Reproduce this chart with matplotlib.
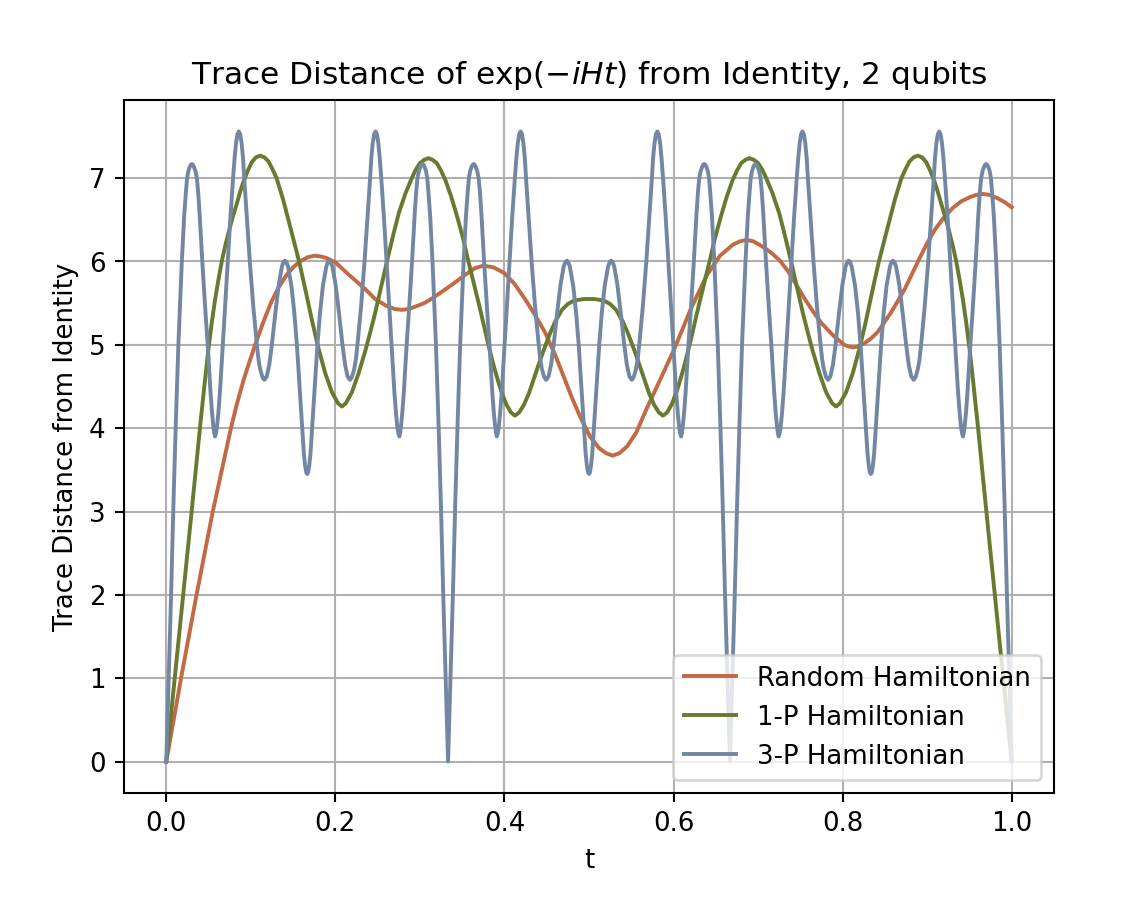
import matplotlib
matplotlib.use("Agg")
import matplotlib.pyplot as plt

# ---------------- data ----------------
t_random = [0.0000, 0.0175, 0.0358, 0.0550, 0.0765, 0.0835, 0.0915, 0.0985, 0.1055, 0.1150,
            0.1240, 0.1330, 0.1418, 0.1500, 0.1580, 0.1670, 0.1753, 0.1830, 0.1900, 0.2000,
            0.2150, 0.2352, 0.2470, 0.2600, 0.2700, 0.2786, 0.2870, 0.2950, 0.3050, 0.3150,
            0.3350, 0.3550, 0.3650, 0.3751, 0.3870, 0.4000, 0.4120, 0.4243, 0.4360, 0.4480,
            0.4600, 0.4716, 0.4800, 0.4894, 0.5012, 0.5120, 0.5200, 0.5280, 0.5360, 0.5450,
            0.5560, 0.5680, 0.5850, 0.6009, 0.6200, 0.6390, 0.6550, 0.6700, 0.6780, 0.6864,
            0.6950, 0.7050, 0.7150, 0.7258, 0.7350, 0.7435, 0.7553, 0.7650, 0.7750, 0.7900,
            0.8020, 0.8070, 0.8124, 0.8180, 0.8260, 0.8340, 0.8420, 0.8580, 0.8735, 0.8920,
            0.9000, 0.9090, 0.9200, 0.9300, 0.9400, 0.9500, 0.9580, 0.9661, 0.9740, 0.9830,
            0.9920, 1.0000]
td_random = [0.00, 1.00, 2.00, 3.00, 4.00, 4.29, 4.58, 4.80, 5.01, 5.28,
             5.51, 5.69, 5.83, 5.93, 6.00, 6.05, 6.07, 6.06, 6.04, 5.99,
             5.85, 5.67, 5.55, 5.47, 5.43, 5.42, 5.43, 5.46, 5.50, 5.56,
             5.70, 5.85, 5.92, 5.95, 5.93, 5.86, 5.73, 5.55, 5.36, 5.15,
             4.88, 4.58, 4.36, 4.14, 3.90, 3.76, 3.70, 3.67, 3.70, 3.78,
             3.95, 4.23, 4.60, 4.95, 5.42, 5.83, 6.07, 6.20, 6.24, 6.26,
             6.24, 6.18, 6.11, 6.01, 5.89, 5.75, 5.55, 5.40, 5.26, 5.10,
             5.00, 4.98, 4.97, 4.98, 5.02, 5.08, 5.16, 5.40, 5.67, 6.06,
             6.22, 6.38, 6.53, 6.64, 6.72, 6.77, 6.80, 6.81, 6.80, 6.76,
             6.71, 6.65]

t_1p = [0.0000, 0.0100, 0.0200, 0.0300, 0.0398, 0.0450, 0.0500, 0.0540, 0.0580, 0.0620,
        0.0660, 0.0700, 0.0740, 0.0785, 0.0827, 0.0870, 0.0910, 0.0960, 0.1010, 0.1060,
        0.1111, 0.1160, 0.1210, 0.1260, 0.1305, 0.1380, 0.1470, 0.1576, 0.1650, 0.1726,
        0.1800, 0.1880, 0.1960, 0.2030, 0.2077, 0.2125, 0.2195, 0.2275, 0.2352, 0.2410,
        0.2470, 0.2540, 0.2610, 0.2680, 0.2750, 0.2830, 0.2904, 0.2950, 0.3000, 0.3050,
        0.3101, 0.3150, 0.3200, 0.3250, 0.3300, 0.3370, 0.3440, 0.3510, 0.3574, 0.3640,
        0.3700, 0.3760, 0.3810, 0.3870, 0.3920, 0.3970, 0.4020, 0.4075, 0.4125, 0.4175,
        0.4230, 0.4290, 0.4350, 0.4420, 0.4480, 0.4540, 0.4600, 0.4680, 0.4750, 0.4820,
        0.4880, 0.4940, 0.5000,
        0.5060, 0.5120, 0.5180, 0.5250, 0.5320, 0.5400, 0.5460, 0.5520, 0.5580, 0.5650,
        0.5710, 0.5770, 0.5825, 0.5875, 0.5925, 0.5980, 0.6030, 0.6080, 0.6130, 0.6190,
        0.6240, 0.6300, 0.6360, 0.6426, 0.6490, 0.6560, 0.6630, 0.6700, 0.6750, 0.6800,
        0.6850, 0.6899, 0.6950, 0.7000, 0.7050, 0.7096, 0.7170, 0.7250, 0.7320, 0.7390,
        0.7460, 0.7530, 0.7590, 0.7648, 0.7725, 0.7805, 0.7875, 0.7923, 0.7970, 0.8040,
        0.8120, 0.8200, 0.8274, 0.8350, 0.8424, 0.8530, 0.8620, 0.8695, 0.8740, 0.8790,
        0.8840, 0.8889, 0.8940, 0.8990, 0.9040, 0.9090, 0.9130, 0.9173, 0.9215, 0.9260,
        0.9300, 0.9340, 0.9380, 0.9420, 0.9460, 0.9500, 0.9550, 0.9602, 0.9700, 0.9800,
        0.9900, 1.0000]
td_1p = [0.00, 1.00, 2.00, 3.00, 4.00, 4.50, 4.96, 5.28, 5.56, 5.80,
         6.02, 6.20, 6.36, 6.53, 6.67, 6.82, 6.95, 7.08, 7.19, 7.25,
         7.27, 7.25, 7.20, 7.10, 7.00, 6.75, 6.40, 5.98, 5.64, 5.28,
         4.96, 4.66, 4.43, 4.30, 4.26, 4.30, 4.43, 4.66, 4.92, 5.14,
         5.38, 5.69, 6.00, 6.30, 6.58, 6.82, 7.00, 7.10, 7.18, 7.22,
         7.24, 7.22, 7.18, 7.09, 6.98, 6.78, 6.54, 6.28, 6.00, 5.73,
         5.48, 5.22, 5.00, 4.76, 4.58, 4.42, 4.29, 4.19, 4.15, 4.19,
         4.28, 4.42, 4.60, 4.81, 4.98, 5.14, 5.28, 5.42, 5.49, 5.53,
         5.54, 5.55, 5.55,
         5.55, 5.54, 5.53, 5.49, 5.42, 5.28, 5.14, 4.98, 4.81, 4.60,
         4.42, 4.28, 4.19, 4.15, 4.19, 4.29, 4.42, 4.58, 4.76, 5.00,
         5.22, 5.48, 5.73, 6.00, 6.28, 6.54, 6.78, 6.98, 7.09, 7.18,
         7.22, 7.24, 7.22, 7.18, 7.10, 7.00, 6.82, 6.58, 6.30, 6.00,
         5.69, 5.38, 5.14, 4.92, 4.66, 4.43, 4.30, 4.26, 4.30, 4.43,
         4.66, 4.96, 5.28, 5.64, 5.98, 6.40, 6.75, 7.00, 7.10, 7.20,
         7.25, 7.27, 7.25, 7.19, 7.08, 6.95, 6.82, 6.67, 6.53, 6.36,
         6.20, 6.02, 5.80, 5.56, 5.28, 4.96, 4.50, 4.00, 3.00, 2.00,
         1.00, 0.00]

t_3p = [
    0.0000, 0.0028, 0.0057, 0.0085, 0.0111, 0.0143, 0.0184, 0.0212, 0.0232, 0.0246,
    0.0260, 0.0275, 0.0290, 0.0303, 0.0316, 0.0330, 0.0346, 0.0362, 0.0378, 0.0394,
    0.0426, 0.0460, 0.0493, 0.0522, 0.0540, 0.0555, 0.0566, 0.0576, 0.0586, 0.0598,
    0.0615, 0.0636, 0.0668, 0.0698, 0.0728, 0.0758, 0.0790, 0.0808, 0.0825, 0.0842,
    0.0858, 0.0874, 0.0891, 0.0908, 0.0922, 0.0955, 0.0988, 0.1030, 0.1072, 0.1090,
    0.1110, 0.1138, 0.1160, 0.1188, 0.1218, 0.1249, 0.1290, 0.1330, 0.1368, 0.1387,
    0.1405, 0.1422, 0.1440, 0.1480, 0.1515, 0.1545, 0.1577, 0.1608, 0.1627, 0.1642,
    0.1655, 0.1667,
    0.1678, 0.1691, 0.1706, 0.1725, 0.1756, 0.1788, 0.1818, 0.1853, 0.1893, 0.1911,
    0.1928, 0.1946, 0.1965, 0.2003, 0.2043, 0.2084, 0.2115, 0.2145, 0.2173, 0.2195,
    0.2223, 0.2243, 0.2261, 0.2303, 0.2345, 0.2378, 0.2411, 0.2425, 0.2442, 0.2459,
    0.2475, 0.2491, 0.2508, 0.2525, 0.2543, 0.2575, 0.2605, 0.2635, 0.2665, 0.2697,
    0.2718, 0.2735, 0.2747, 0.2757, 0.2767, 0.2778, 0.2793, 0.2811, 0.2840, 0.2873,
    0.2907, 0.2939, 0.2955, 0.2971, 0.2987, 0.3003, 0.3017, 0.3030, 0.3043, 0.3058,
    0.3073, 0.3087, 0.3101, 0.3121, 0.3149, 0.3190, 0.3222, 0.3248, 0.3276, 0.3305,
    0.3333,
    0.3361, 0.3390, 0.3418, 0.3444, 0.3476, 0.3517, 0.3545, 0.3565, 0.3579,
    0.3593, 0.3608, 0.3623, 0.3636, 0.3649, 0.3663, 0.3679, 0.3695, 0.3711, 0.3727,
    0.3759, 0.3793, 0.3826, 0.3855, 0.3873, 0.3888, 0.3899, 0.3909, 0.3919, 0.3931,
    0.3948, 0.3969, 0.4001, 0.4031, 0.4061, 0.4091, 0.4123, 0.4141, 0.4158, 0.4175,
    0.4191, 0.4207, 0.4224, 0.4241, 0.4255, 0.4288, 0.4321, 0.4363, 0.4405, 0.4423,
    0.4443, 0.4471, 0.4493, 0.4521, 0.4551, 0.4582, 0.4623, 0.4663, 0.4701, 0.4720,
    0.4738, 0.4755, 0.4773, 0.4813, 0.4848, 0.4878, 0.4910, 0.4941, 0.4960, 0.4975,
    0.4988, 0.5000,
    0.5011, 0.5024, 0.5039, 0.5058, 0.5089, 0.5121, 0.5151, 0.5186, 0.5226, 0.5244,
    0.5261, 0.5279, 0.5298, 0.5336, 0.5376, 0.5417, 0.5448, 0.5478, 0.5506, 0.5528,
    0.5556, 0.5576, 0.5594, 0.5636, 0.5678, 0.5711, 0.5744, 0.5758, 0.5775, 0.5792,
    0.5808, 0.5824, 0.5841, 0.5858, 0.5876, 0.5908, 0.5938, 0.5968, 0.5998, 0.6030,
    0.6051, 0.6068, 0.6080, 0.6090, 0.6100, 0.6111, 0.6126, 0.6144, 0.6173, 0.6206,
    0.6240, 0.6272, 0.6288, 0.6304, 0.6320, 0.6336, 0.6350, 0.6363, 0.6376, 0.6391,
    0.6406, 0.6420, 0.6434, 0.6454, 0.6482, 0.6523, 0.6555, 0.6581, 0.6609, 0.6638,
    0.6667,
    0.6695, 0.6724, 0.6752, 0.6778, 0.6810, 0.6851, 0.6879, 0.6899, 0.6913,
    0.6927, 0.6942, 0.6957, 0.6970, 0.6983, 0.6997, 0.7013, 0.7029, 0.7045, 0.7061,
    0.7093, 0.7127, 0.7160, 0.7189, 0.7207, 0.7222, 0.7233, 0.7243, 0.7253, 0.7265,
    0.7282, 0.7303, 0.7335, 0.7365, 0.7395, 0.7425, 0.7457, 0.7475, 0.7492, 0.7509,
    0.7525, 0.7541, 0.7558, 0.7575, 0.7589, 0.7622, 0.7655, 0.7697, 0.7739, 0.7757,
    0.7777, 0.7805, 0.7827, 0.7855, 0.7885, 0.7916, 0.7957, 0.7997, 0.8035, 0.8054,
    0.8072, 0.8089, 0.8107, 0.8147, 0.8182, 0.8212, 0.8244, 0.8275, 0.8294, 0.8309,
    0.8322, 0.8334,
    0.8345, 0.8358, 0.8373, 0.8392, 0.8423, 0.8455, 0.8485, 0.8520, 0.8560, 0.8578,
    0.8595, 0.8613, 0.8632, 0.8670, 0.8710, 0.8751, 0.8782, 0.8812, 0.8840, 0.8862,
    0.8890, 0.8910, 0.8928, 0.8970, 0.9012, 0.9045, 0.9078, 0.9092, 0.9109, 0.9126,
    0.9142, 0.9158, 0.9175, 0.9192, 0.9210, 0.9242, 0.9272, 0.9302, 0.9332, 0.9364,
    0.9385, 0.9402, 0.9414, 0.9424, 0.9434, 0.9445, 0.9460, 0.9478, 0.9507, 0.9540,
    0.9574, 0.9606, 0.9622, 0.9638, 0.9654, 0.9670, 0.9684, 0.9697, 0.9710, 0.9725,
    0.9740, 0.9754, 0.9768, 0.9788, 0.9816, 0.9857, 0.9889, 0.9915, 0.9943, 0.9972,
    1.0000]
td_3p = [
    0.00, 1.00, 2.00, 3.10, 4.00, 5.00, 6.00, 6.55, 6.83, 7.00,
    7.08, 7.13, 7.16, 7.17, 7.16, 7.13, 7.08, 7.00, 6.82, 6.58,
    6.00, 5.45, 4.95, 4.45, 4.20, 4.04, 3.95, 3.90, 3.93, 4.00,
    4.17, 4.45, 5.00, 5.50, 6.00, 6.52, 7.00, 7.24, 7.42, 7.53,
    7.56, 7.53, 7.42, 7.24, 7.00, 6.50, 6.00, 5.45, 5.00, 4.83,
    4.71, 4.61, 4.58, 4.62, 4.76, 5.00, 5.38, 5.72, 5.94, 5.99,
    6.01, 5.99, 5.94, 5.71, 5.38, 5.00, 4.50, 4.00, 3.70, 3.55,
    3.47, 3.45,
    3.47, 3.55, 3.70, 4.00, 4.50, 5.00, 5.38, 5.71, 5.94, 5.99,
    6.01, 5.99, 5.94, 5.72, 5.38, 5.00, 4.76, 4.62, 4.58, 4.61,
    4.71, 4.83, 5.00, 5.45, 6.00, 6.50, 7.00, 7.24, 7.42, 7.53,
    7.56, 7.53, 7.42, 7.24, 7.00, 6.52, 6.00, 5.50, 5.00, 4.45,
    4.17, 4.00, 3.93, 3.90, 3.95, 4.04, 4.20, 4.45, 4.95, 5.45,
    6.00, 6.58, 6.82, 7.00, 7.08, 7.13, 7.16, 7.17, 7.16, 7.13,
    7.08, 7.00, 6.83, 6.55, 6.00, 5.00, 4.00, 3.10, 2.00, 1.00,
    0.00,
    1.00, 2.00, 3.10, 4.00, 5.00, 6.00, 6.55, 6.83, 7.00,
    7.08, 7.13, 7.16, 7.17, 7.16, 7.13, 7.08, 7.00, 6.82, 6.58,
    6.00, 5.45, 4.95, 4.45, 4.20, 4.04, 3.95, 3.90, 3.93, 4.00,
    4.17, 4.45, 5.00, 5.50, 6.00, 6.52, 7.00, 7.24, 7.42, 7.53,
    7.56, 7.53, 7.42, 7.24, 7.00, 6.50, 6.00, 5.45, 5.00, 4.83,
    4.71, 4.61, 4.58, 4.62, 4.76, 5.00, 5.38, 5.72, 5.94, 5.99,
    6.01, 5.99, 5.94, 5.71, 5.38, 5.00, 4.50, 4.00, 3.70, 3.55,
    3.47, 3.45,
    3.47, 3.55, 3.70, 4.00, 4.50, 5.00, 5.38, 5.71, 5.94, 5.99,
    6.01, 5.99, 5.94, 5.72, 5.38, 5.00, 4.76, 4.62, 4.58, 4.61,
    4.71, 4.83, 5.00, 5.45, 6.00, 6.50, 7.00, 7.24, 7.42, 7.53,
    7.56, 7.53, 7.42, 7.24, 7.00, 6.52, 6.00, 5.50, 5.00, 4.45,
    4.17, 4.00, 3.93, 3.90, 3.95, 4.04, 4.20, 4.45, 4.95, 5.45,
    6.00, 6.58, 6.82, 7.00, 7.08, 7.13, 7.16, 7.17, 7.16, 7.13,
    7.08, 7.00, 6.83, 6.55, 6.00, 5.00, 4.00, 3.10, 2.00, 1.00,
    0.00,
    1.00, 2.00, 3.10, 4.00, 5.00, 6.00, 6.55, 6.83, 7.00,
    7.08, 7.13, 7.16, 7.17, 7.16, 7.13, 7.08, 7.00, 6.82, 6.58,
    6.00, 5.45, 4.95, 4.45, 4.20, 4.04, 3.95, 3.90, 3.93, 4.00,
    4.17, 4.45, 5.00, 5.50, 6.00, 6.52, 7.00, 7.24, 7.42, 7.53,
    7.56, 7.53, 7.42, 7.24, 7.00, 6.50, 6.00, 5.45, 5.00, 4.83,
    4.71, 4.61, 4.58, 4.62, 4.76, 5.00, 5.38, 5.72, 5.94, 5.99,
    6.01, 5.99, 5.94, 5.71, 5.38, 5.00, 4.50, 4.00, 3.70, 3.55,
    3.47, 3.45,
    3.47, 3.55, 3.70, 4.00, 4.50, 5.00, 5.38, 5.71, 5.94, 5.99,
    6.01, 5.99, 5.94, 5.72, 5.38, 5.00, 4.76, 4.62, 4.58, 4.61,
    4.71, 4.83, 5.00, 5.45, 6.00, 6.50, 7.00, 7.24, 7.42, 7.53,
    7.56, 7.53, 7.42, 7.24, 7.00, 6.52, 6.00, 5.50, 5.00, 4.45,
    4.17, 4.00, 3.93, 3.90, 3.95, 4.04, 4.20, 4.45, 4.95, 5.45,
    6.00, 6.58, 6.82, 7.00, 7.08, 7.13, 7.16, 7.17, 7.16, 7.13,
    7.08, 7.00, 6.83, 6.55, 6.00, 5.00, 4.00, 3.10, 2.00, 1.00,
    0.00]

series_labels = ["Random Hamiltonian", "1-P Hamiltonian", "3-P Hamiltonian"]
series_colors = ["#C26A45", "#687A2F", "#7387A2"]

# ---------------- figure ----------------
DPI = 187.5
fig = plt.figure(figsize=(1132 / DPI, 915 / DPI), dpi=DPI)
ax = fig.add_axes([124 / 1132, (915 - 793) / 915, 930 / 1132, 693 / 915])

ax.plot(t_random, td_random, color=series_colors[0], label=series_labels[0])
ax.plot(t_1p, td_1p, color=series_colors[1], label=series_labels[1])
ax.plot(t_3p, td_3p, color=series_colors[2], label=series_labels[2])

ax.grid(True)
ax.set_xlabel("t")
ax.set_ylabel("Trace Distance from Identity")
ax.set_title(r"Trace Distance of $\exp(-iHt)$ from Identity, 2 qubits")
ax.legend(loc="lower right")

fig.savefig("out.png", dpi=DPI)
